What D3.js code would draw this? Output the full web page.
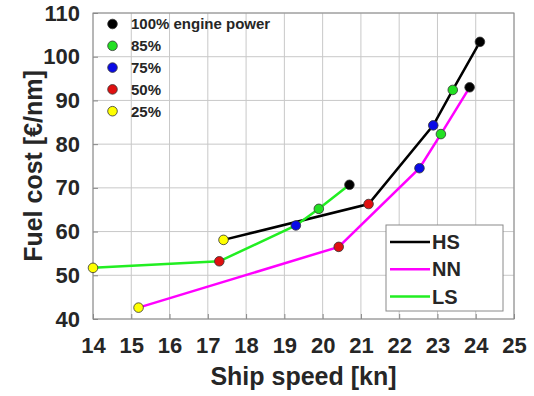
<!DOCTYPE html>
<html>
<head>
<meta charset="utf-8">
<script src="https://cdn.jsdelivr.net/npm/d3@7"></script>
<style>
  body { margin: 0; background: #fff; }
  text { font-family: "Liberation Sans", Arial, sans-serif; font-weight: bold; fill: #262626; }
</style>
</head>
<body>
<svg id="chart" width="534" height="396"></svg>
<script>
// power levels, in the order the points are listed below
const powerLevels = ["100% engine power", "85%", "75%", "50%", "25%"];
const powerColors = ["#000000", "#22e022", "#0a0ae6", "#e01010", "#ffff00"];

// speed [kn] and fuel cost [€/nm] per series, one value per power level
const hsSpeed = [24.11, 23.40, 22.89, 21.20, 17.41];
const hsCost  = [103.4, 92.4, 84.3, 66.3, 58.1];
const nnSpeed = [23.84, 23.09, 22.53, 20.42, 15.19];
const nnCost  = [93.0, 82.3, 74.5, 56.5, 42.6];
const lsSpeed = [20.70, 19.90, 19.30, 17.30, 14.00];
const lsCost  = [70.7, 65.2, 61.4, 53.2, 51.7];

const seriesNames = ["HS", "NN", "LS"];
const seriesColors = ["#000000", "#ff00ff", "#22ee22"];

const xTicks = [14, 15, 16, 17, 18, 19, 20, 21, 22, 23, 24, 25];
const yTicks = [40, 50, 60, 70, 80, 90, 100, 110];

const margin = { top: 13, right: 20, bottom: 77, left: 93 };
const width = 534, height = 396;

const svg = d3.select("#chart");

const x = d3.scaleLinear().domain([14, 25]).range([margin.left, width - margin.right]);
const y = d3.scaleLinear().domain([40, 110]).range([height - margin.bottom, margin.top]);

// grid
const grid = svg.append("g");
grid.selectAll("line.gx")
  .data(xTicks)
  .enter()
  .append("line")
  .attr("x1", d => x(d)).attr("x2", d => x(d))
  .attr("y1", y(40)).attr("y2", y(110))
  .attr("stroke", "#c8c8c8").attr("stroke-width", 1);
grid.selectAll("line.gy")
  .data(yTicks)
  .enter()
  .append("line")
  .attr("x1", x(14)).attr("x2", x(25))
  .attr("y1", d => y(d)).attr("y2", d => y(d))
  .attr("stroke", "#c8c8c8").attr("stroke-width", 1);

// axes
const xAxis = svg.append("g")
  .attr("transform", `translate(0,${y(40)})`)
  .call(d3.axisBottom(x).tickValues(xTicks).tickSizeInner(-5).tickSizeOuter(0).tickPadding(18));
const yAxis = svg.append("g")
  .attr("transform", `translate(${x(14)},0)`)
  .call(d3.axisLeft(y).tickValues(yTicks).tickSizeInner(-5).tickSizeOuter(0).tickPadding(13));

[xAxis, yAxis].forEach(a => {
  a.select(".domain").remove();
  a.selectAll(".tick line").attr("stroke", "#888");
  a.selectAll(".tick text").attr("font-size", "22px").attr("fill", "#262626");
});

// frame
svg.append("rect")
  .attr("x", x(14)).attr("y", y(110))
  .attr("width", x(25) - x(14)).attr("height", y(40) - y(110))
  .attr("fill", "none").attr("stroke", "#8a8a8a").attr("stroke-width", 1);

// series
const series = [
  { name: "HS", speed: hsSpeed, cost: hsCost },
  { name: "NN", speed: nnSpeed, cost: nnCost },
  { name: "LS", speed: lsSpeed, cost: lsCost }
];

const line = d3.line().x(d => x(d[0])).y(d => y(d[1]));

series.forEach((s, i) => {
  const pts = s.speed.map((v, k) => [v, s.cost[k]]);
  svg.append("path")
    .datum(pts)
    .attr("d", line)
    .attr("fill", "none")
    .attr("stroke", seriesColors[i])
    .attr("stroke-width", 2.5);
});

series.forEach(s => {
  svg.append("g").selectAll("circle")
    .data(s.speed.map((v, k) => ({ sx: v, cy: s.cost[k], k: k })))
    .enter()
    .append("circle")
    .attr("cx", d => x(d.sx))
    .attr("cy", d => y(d.cy))
    .attr("r", 4.8)
    .attr("fill", d => powerColors[d.k])
    .attr("stroke", "#333")
    .attr("stroke-width", 0.8);
});

// power legend (top left, no box)
const pl = svg.append("g");
powerLevels.forEach((p, i) => {
  const yy = 24 + i * 21.8;
  pl.append("circle")
    .attr("cx", 112.5).attr("cy", yy).attr("r", 4.8)
    .attr("fill", powerColors[i]).attr("stroke", "#333").attr("stroke-width", 0.8);
  pl.append("text")
    .attr("x", 131).attr("y", yy).attr("dy", "0.36em")
    .attr("font-size", "15px")
    .text(p);
});

// series legend (bottom right)
const sl = svg.append("g");
sl.append("rect")
  .attr("x", 386).attr("y", 225).attr("width", 117).attr("height", 86)
  .attr("fill", "#fff").attr("stroke", "#8a8a8a").attr("stroke-width", 1);
seriesNames.forEach((n, i) => {
  const yy = 242 + i * 27.2;
  sl.append("line")
    .attr("x1", 390).attr("x2", 430).attr("y1", yy).attr("y2", yy)
    .attr("stroke", seriesColors[i]).attr("stroke-width", 2.5);
  sl.append("text")
    .attr("x", 432).attr("y", yy).attr("dy", "0.36em")
    .attr("font-size", "20px")
    .text(n);
});

// axis titles
svg.append("text")
  .attr("x", (x(14) + x(25)) / 2).attr("y", 385)
  .attr("text-anchor", "middle")
  .attr("font-size", "25px")
  .text("Ship speed [kn]");
svg.append("text")
  .attr("transform", `translate(42,${(y(40) + y(110)) / 2}) rotate(-90)`)
  .attr("text-anchor", "middle")
  .attr("font-size", "25px")
  .text("Fuel cost [€/nm]");
</script>
</body>
</html>
